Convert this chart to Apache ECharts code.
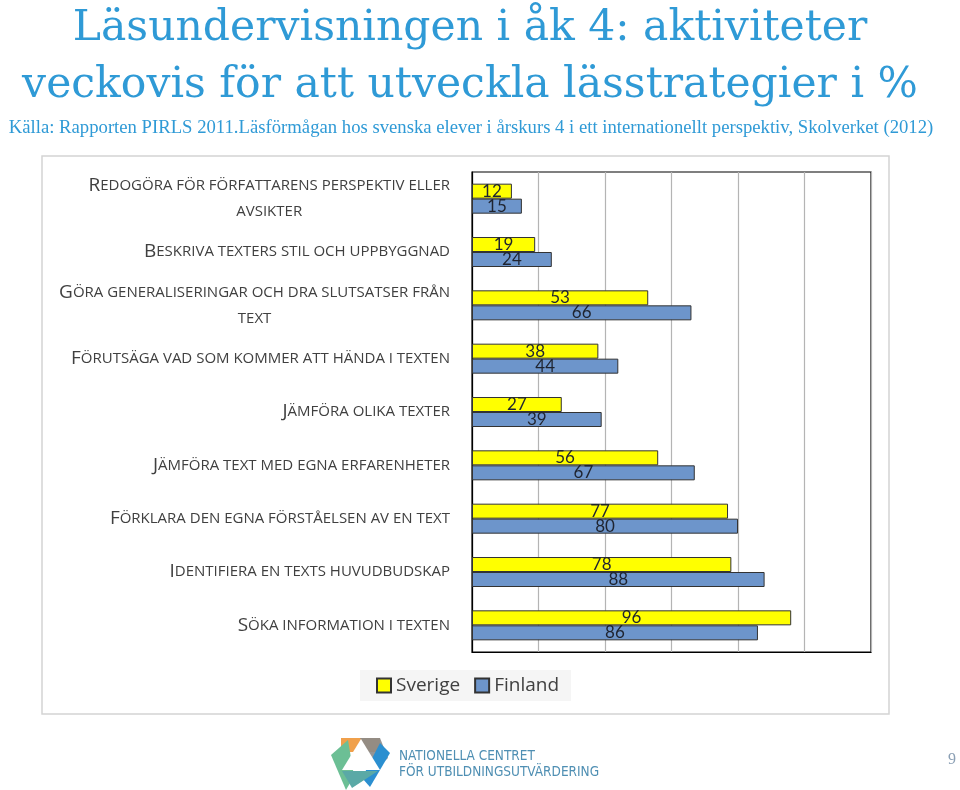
<!DOCTYPE html>
<html><head><meta charset="utf-8">
<script src="https://cdn.jsdelivr.net/npm/echarts@6/dist/echarts.min.js"></script>
<style>html,body{margin:0;padding:0;background:#fff}#c{width:960px;height:790px}</style>
</head><body><div id="c"></div>
<script>
const categories = [
  'Redogöra för författarens perspektiv eller\navsikter',
  'Beskriva texters stil och uppbyggnad',
  'Göra generaliseringar och dra slutsatser från\ntext',
  'Förutsäga vad som kommer att hända i texten',
  'Jämföra olika texter',
  'Jämföra text med egna erfarenheter',
  'Förklara den egna förståelsen av en text',
  'Identifiera en texts huvudbudskap',
  'Söka information i texten'
];
const sverige = [12, 19, 53, 38, 27, 56, 77, 78, 96];
const finland = [15, 24, 66, 44, 39, 67, 80, 88, 86];
const seriesNames = ['Sverige', 'Finland'];

const blue = '#2f9ad6';
const chart = echarts.init(document.getElementById('c'));
function smallCaps(v) {
  const lines = v.split('\n');
  return lines.map((ln, i) => {
    const up = ln.toUpperCase();
    if (i === 0) return '{b|' + up.charAt(0) + '}{s|' + up.slice(1) + '}';
    return '{s|' + up + '}';
  }).join('\n');
}
chart.setOption({
  animation: false,
  title: [{
    text: 'Läsundervisningen i åk 4: aktiviteter\nveckovis för att utveckla lässtrategier i %',
    left: 465, textAlign: 'center', top: -5,
    textStyle: { fontFamily: 'DejaVu Serif', fontSize: 42.5, fontWeight: 'normal', color: blue, lineHeight: 57 }
  }, {
    text: 'Källa: Rapporten PIRLS 2011.Läsförmågan hos svenska elever i årskurs 4 i ett internationellt perspektiv, Skolverket (2012)',
    left: 466, textAlign: 'center', top: 114,
    textStyle: { fontFamily: 'Liberation Serif', fontSize: 18.7, fontWeight: 'normal', color: blue }
  }],
  graphic: [
    { type: 'rect', shape: { x: 42, y: 156, width: 847, height: 558 }, style: { fill: 'none', stroke: '#d4d4d4', lineWidth: 1.5 }, z: -1 },
    { type: 'polygon', shape: { points: [[341,738],[380,738],[380,752],[341,752]] }, style: { fill: '#f0a04b' } },
    { type: 'polygon', shape: { points: [[331,755],[348,740],[354,776],[346,790]] }, style: { fill: '#6cbf95' } },
    { type: 'polygon', shape: { points: [[360,738],[380,738],[388,758],[375,770]] }, style: { fill: '#8a8a8a', opacity: 0.9 } },
    { type: 'polygon', shape: { points: [[380,743],[390,753],[370,787],[362,778]] }, style: { fill: '#2b8fd0' } },
    { type: 'polygon', shape: { points: [[342,771],[378,771],[352,788]] }, style: { fill: '#5aa9a6' } },
    { type: 'polygon', shape: { points: [[361,739],[342,770],[380,770]] }, style: { fill: '#ffffff' } },
    { type: 'text', x: 399, y: 749, style: { text: 'NATIONELLA CENTRET', font: '13.5px "Liberation Sans Narrow", "DejaVu Sans Condensed", sans-serif', fill: '#4f8fb3' } },
    { type: 'text', x: 399, y: 765, style: { text: 'FÖR UTBILDNINGSUTVÄRDERING', font: '13.5px "Liberation Sans Narrow", "DejaVu Sans Condensed", sans-serif', fill: '#4f8fb3' } },
    { type: 'text', x: 948, y: 752, style: { text: '9', font: '16px "Liberation Serif"', fill: '#8ba0b5' } }
  ],
  legend: {
    data: seriesNames, left: 360, top: 670, padding: [6, 12, 6, 16], backgroundColor: '#f5f5f5',
    itemWidth: 14, itemHeight: 14, itemGap: 14, icon: 'rect',
    textStyle: { fontFamily: 'Open Sans', fontSize: 19, color: '#404040' }
  },
  grid: { left: 472, right: 89, top: 172, bottom: 138, show: true, borderColor: '#000', borderWidth: 1.2 },
  xAxis: {
    type: 'value', min: 0, max: 120, interval: 20,
    axisLabel: { show: false }, axisTick: { show: false },
    axisLine: { show: true, lineStyle: { color: '#000' } },
    splitLine: { show: true, lineStyle: { color: '#b4b4b4', width: 1.2 } }
  },
  yAxis: {
    type: 'category', data: categories, inverse: true,
    axisTick: { show: false },
    axisLine: { show: true, lineStyle: { color: '#000', width: 1.2 } },
    axisLabel: {
      margin: 22, align: 'right',
      formatter: smallCaps,
      rich: {
        b: { fontFamily: 'Open Sans', fontSize: 19, color: '#404040', lineHeight: 26, align: 'center' },
        s: { fontFamily: 'Open Sans', fontSize: 15, color: '#404040', lineHeight: 26, align: 'center' }
      }
    }
  },
  series: [{
    name: seriesNames[0], type: 'bar', data: sverige, barWidth: 15, barGap: '0%',
    itemStyle: { color: '#ffff00', borderColor: '#333', borderWidth: 1 },
    label: { show: true, position: 'inside', fontFamily: 'Lato', fontSize: 17, color: '#1f2430' }
  }, {
    name: seriesNames[1], type: 'bar', data: finland, barWidth: 15, barGap: '0%',
    itemStyle: { color: '#6d95cb', borderColor: '#333', borderWidth: 1 },
    label: { show: true, position: 'inside', fontFamily: 'Lato', fontSize: 17, color: '#1f2430' }
  }]
});
</script></body></html>
